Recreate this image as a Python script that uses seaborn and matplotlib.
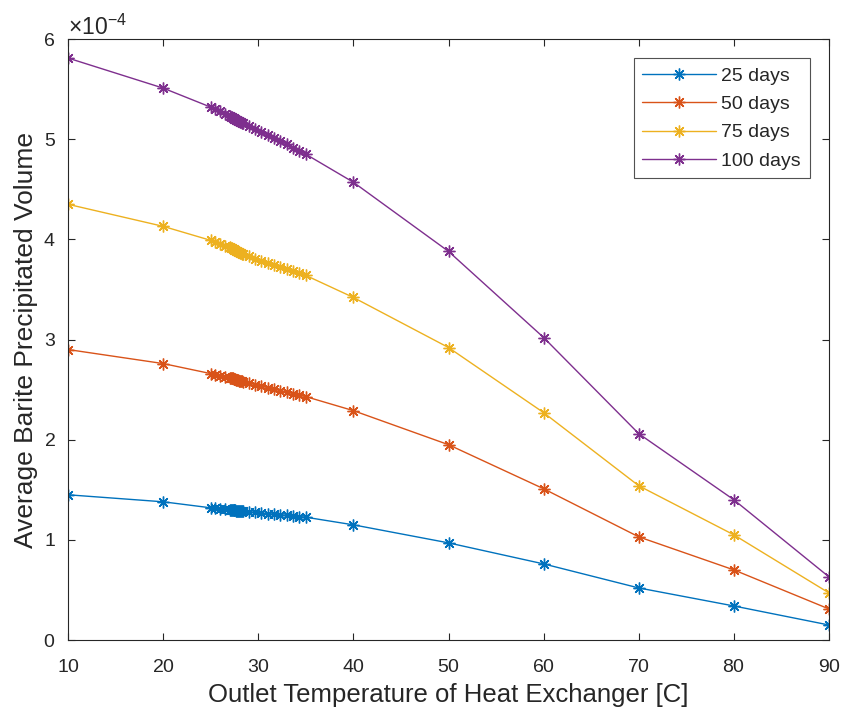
import matplotlib
matplotlib.use("Agg")
import matplotlib.pyplot as plt
from matplotlib.ticker import ScalarFormatter
import pandas as pd
import seaborn as sns

# Outlet temperature of the heat exchanger [C]
temperature = [10, 20, 25, 25.5, 26, 26.5, 27.0, 27.1, 27.2, 27.3, 27.4, 27.5, 27.6,
               27.7, 27.8, 27.9, 28.0, 28.1, 28.2, 28.3, 28.4, 29.0, 29.7, 30.3, 31.0,
               31.7, 32.3, 33.0, 33.7, 34.3, 35.0, 40, 50, 60, 70, 80, 90]

# Average barite precipitated volume, in units of 1e-4
vol_25 = [1.45, 1.38, 1.32, 1.315, 1.31, 1.305, 1.30, 1.299, 1.298, 1.297, 1.296, 1.295,
          1.294, 1.293, 1.292, 1.291, 1.290, 1.289, 1.288, 1.287, 1.286, 1.28, 1.274,
          1.268, 1.262, 1.256, 1.25, 1.244, 1.238, 1.232, 1.226, 1.15, 0.97, 0.76, 0.52,
          0.34, 0.15]
vol_50 = [2.90, 2.76, 2.66, 2.65, 2.64, 2.63, 2.62, 2.617, 2.614, 2.611, 2.608, 2.605,
          2.602, 2.599, 2.596, 2.593, 2.590, 2.587, 2.584, 2.581, 2.578, 2.565, 2.55,
          2.535, 2.52, 2.505, 2.49, 2.475, 2.46, 2.445, 2.43, 2.29, 1.95, 1.51, 1.03,
          0.70, 0.31]
vol_75 = [4.35, 4.13, 3.99, 3.97, 3.95, 3.935, 3.92, 3.915, 3.91, 3.905, 3.90, 3.895,
          3.89, 3.885, 3.88, 3.875, 3.87, 3.865, 3.86, 3.855, 3.85, 3.83, 3.80, 3.78,
          3.76, 3.74, 3.72, 3.70, 3.68, 3.66, 3.64, 3.42, 2.92, 2.27, 1.54, 1.05, 0.47]
vol_100 = [5.81, 5.51, 5.32, 5.30, 5.28, 5.25, 5.23, 5.225, 5.22, 5.215, 5.21, 5.205,
           5.20, 5.195, 5.19, 5.185, 5.18, 5.175, 5.17, 5.165, 5.16, 5.13, 5.10, 5.07,
           5.04, 5.01, 4.98, 4.95, 4.91, 4.88, 4.85, 4.57, 3.88, 3.02, 2.06, 1.40, 0.63]
SCALE = 1e-4

series_names = ["25 days", "50 days", "75 days", "100 days"]
series_values = [vol_25, vol_50, vol_75, vol_100]
colors = ["#0072BD", "#D95319", "#EDB120", "#7E2F8E"]

x_ticks = [10, 20, 30, 40, 50, 60, 70, 80, 90]
y_ticks = [0, 1e-4, 2e-4, 3e-4, 4e-4, 5e-4, 6e-4]

sns.set_theme(style="ticks")
plt.rcParams["font.family"] = ["Liberation Sans", "DejaVu Sans"]
plt.rcParams["mathtext.fontset"] = "custom"
plt.rcParams["mathtext.rm"] = "Liberation Sans"
plt.rcParams["axes.formatter.use_mathtext"] = True

fig = plt.figure(figsize=(8.43, 7.16), dpi=100)
ax = fig.add_axes([0.0807, 0.1061, 0.9027, 0.8394])

# One line per elapsed time, with asterisk markers at each computed point
for name, vals, col in zip(series_names, series_values, colors):
    d = pd.DataFrame({"T": temperature, "V": [v * SCALE for v in vals]})
    sns.lineplot(data=d, x="T", y="V", color=col, label=name,
                 marker=(8, 2, 0), markersize=8.5, markeredgewidth=1.0,
                 markeredgecolor=col, linewidth=1.0, estimator=None, ax=ax)

ax.set_xlim(10, 90)
ax.set_ylim(0, 6e-4)
ax.set_xticks(x_ticks)
ax.set_yticks(y_ticks)

text_color = "#262626"
fmt = ScalarFormatter(useMathText=True)
fmt.set_powerlimits((-3, 3))
ax.yaxis.set_major_formatter(fmt)
ax.yaxis.get_offset_text().set_fontsize(16.5)
ax.yaxis.get_offset_text().set_color(text_color)

ax.tick_params(direction="in", top=True, right=True, length=5, width=0.8,
               labelsize=14, colors=text_color, labelcolor=text_color)
ax.tick_params(axis="x", pad=14)
ax.tick_params(axis="y", pad=9)
for sp in ax.spines.values():
    sp.set_color(text_color)
    sp.set_linewidth(0.8)

ax.set_xlabel("Outlet Temperature of Heat Exchanger [C]", fontsize=18.5,
              color=text_color, labelpad=5)
ax.set_ylabel("Average Barite Precipitated Volume", fontsize=19,
              color=text_color, labelpad=3.5)

leg = ax.legend(loc="upper right", fontsize=14, frameon=True, fancybox=False,
                edgecolor=text_color, handlelength=3.8, handletextpad=0.25,
                borderpad=0.45, labelspacing=0.55, borderaxespad=1.0)
leg.get_frame().set_linewidth(0.8)
for t in leg.get_texts():
    t.set_color(text_color)

fig.savefig("out.png", dpi=100)
